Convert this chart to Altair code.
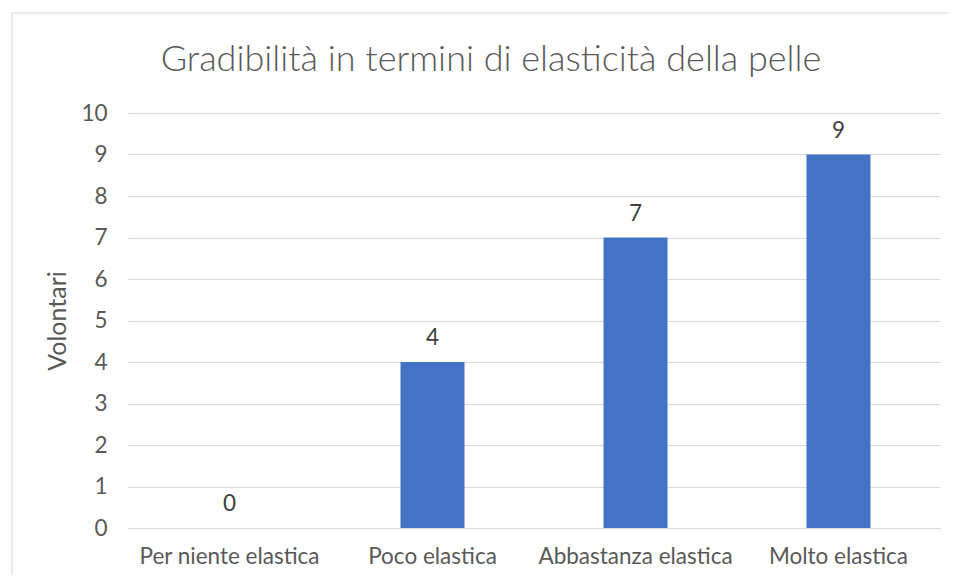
import altair as alt
import pandas as pd

categories = ["Per niente elastica", "Poco elastica", "Abbastanza elastica", "Molto elastica"]
values = [0, 4, 7, 9]
y_ticks = list(range(0, 11))
title_text = "Gradibilità in termini di elasticità della pelle"

df = pd.DataFrame({"cat": categories, "val": values})

W, H = 812, 415
FONT = "Lato"
GREY = "#595959"
LBL = 22.5

base = alt.Chart(df)

border = alt.Chart(pd.DataFrame({"k": [0]})).mark_rect(
    fillOpacity=0, stroke="#d9d9d9", strokeWidth=1
).encode(
    x=alt.value(-116), x2=alt.value(826), y=alt.value(-100), y2=alt.value(480)
)

title = alt.Chart(pd.DataFrame({"t": [title_text]})).mark_text(
    fontSize=36, font=FONT, fontWeight=300, color=GREY, baseline="middle", align="center"
).encode(text="t:N", x=alt.value(W / 2 - 43), y=alt.value(-53))

x_enc = alt.X(
    "cat:N", sort=categories, title=None,
    scale=alt.Scale(paddingInner=0, paddingOuter=0),
    axis=alt.Axis(labelAngle=0, labelFontSize=LBL, labelColor=GREY, labelFont=FONT,
                  ticks=False, domain=True, domainColor="#d9d9d9", labelPadding=17,
                  labelLimit=0, grid=False),
)
y_enc = alt.Y(
    "val:Q", title="Volontari",
    scale=alt.Scale(domain=[0, 10], nice=False),
    axis=alt.Axis(values=y_ticks, labelFontSize=LBL, labelColor=GREY, labelFont=FONT,
                  ticks=False, domain=False, labelPadding=21, grid=True,
                  gridColor="#d9d9d9", gridWidth=1,
                  titleFontSize=25, titleColor=GREY, titleFont=FONT,
                  titleFontWeight="normal", titlePadding=10),
)

bars = base.mark_bar(color="#4472C4", size=64).encode(x=x_enc, y=y_enc)
labels = base.mark_text(baseline="bottom", dy=-12, fontSize=LBL, color="#404040", font=FONT).encode(
    x=alt.X("cat:N", sort=categories), y="val:Q", text="val:Q"
)

chart = alt.layer(border, title, bars, labels).properties(
    width=W, height=H,
    autosize=alt.AutoSizeParams(type="none"),
    padding={"left": 120, "top": 105, "right": 9, "bottom": 47},
).configure_view(stroke=None)

chart.save("out.html", embed_options={"renderer": "svg", "actions": False})
